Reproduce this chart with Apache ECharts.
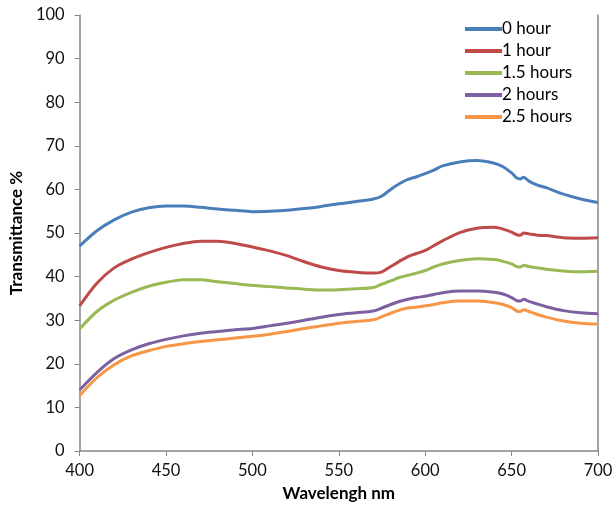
<!DOCTYPE html>
<html><head><meta charset="utf-8">
<script src="https://cdn.jsdelivr.net/npm/echarts@6/dist/echarts.min.js"></script>
<style>html,body{margin:0;padding:0;background:#fff}#c{width:616px;height:511px}</style>
</head><body><div id="c"></div>
<script>
const wavelengths = [400,410,420,430,440,450,460,470,480,490,500,510,520,530,540,550,560,570,575,580,585,590,595,600,605,610,620,630,640,645,650,653,655,657,660,665,670,680,690,700];
const hour0 = [47.0,50.5,53.0,54.8,55.8,56.2,56.2,55.9,55.5,55.2,54.9,55.0,55.2,55.6,56.1,56.7,57.2,57.8,58.5,60.0,61.3,62.3,62.9,63.6,64.4,65.4,66.3,66.6,66.0,65.2,63.8,62.6,62.4,62.8,61.9,61.0,60.4,58.9,57.8,57.0];
const hour1 = [33.3,38.5,42.0,44.0,45.5,46.7,47.6,48.1,48.1,47.6,46.8,45.9,44.8,43.4,42.2,41.4,41.0,40.8,41.1,42.3,43.5,44.6,45.3,46.0,47.1,48.2,50.1,51.1,51.3,50.9,50.2,49.6,49.5,50.0,49.8,49.5,49.4,48.9,48.8,48.9];
const hour15 = [28.0,32.0,34.6,36.4,37.8,38.7,39.3,39.3,38.8,38.4,38.0,37.7,37.4,37.1,36.9,37.0,37.2,37.5,38.3,39.0,39.8,40.3,40.8,41.4,42.2,42.9,43.7,44.1,43.9,43.5,42.9,42.3,42.2,42.6,42.3,42.0,41.7,41.3,41.1,41.2];
const hour2 = [14.0,18.0,21.2,23.2,24.6,25.6,26.4,27.0,27.4,27.8,28.1,28.7,29.3,30.0,30.7,31.3,31.7,32.1,32.8,33.6,34.3,34.8,35.2,35.5,35.9,36.3,36.7,36.7,36.4,36.0,35.2,34.5,34.4,34.8,34.3,33.7,33.1,32.2,31.7,31.5];
const hour25 = [12.7,16.8,19.8,21.8,23.0,24.0,24.6,25.1,25.5,25.9,26.3,26.8,27.4,28.1,28.7,29.3,29.7,30.1,30.8,31.6,32.3,32.8,33.0,33.3,33.6,34.0,34.4,34.4,34.0,33.6,32.9,32.1,32.0,32.4,32.0,31.3,30.7,29.8,29.3,29.1];
const seriesNames = ['0 hour','1 hour','1.5 hours','2 hours','2.5 hours'];
const seriesData = [hour0,hour1,hour15,hour2,hour25];
const colors = ['#4A7EBB','#BE4B48','#98B954','#7D60A0','#F79646'];
const xTicks = [400,450,500,550,600,650,700];
const yTicks = [0,10,20,30,40,50,60,70,80,90,100];

const font = 'Lato, "Liberation Sans", sans-serif';
const chart = echarts.init(document.getElementById('c'));
chart.setOption({
  animation:false,
  grid:{left:78,right:18,top:15,bottom:60},
  legend:{
    orient:'vertical', left:460, top:15, itemWidth:37, itemHeight:4, itemGap:4,
    icon:'rect',
    textStyle:{fontFamily:font,fontSize:17,color:'#000',lineHeight:18,padding:[0,0,0,-5]},
    data:seriesNames
  },
  xAxis:{
    type:'value', min:400, max:700, interval:50,
    name:'Wavelengh nm', nameLocation:'middle', nameGap:34,
    nameTextStyle:{fontFamily:font,fontSize:17,fontWeight:'bold',color:'#000'},
    axisLine:{lineStyle:{color:'#868686',width:1.5}},
    axisTick:{show:true,length:5,lineStyle:{color:'#868686'}},
    axisLabel:{fontFamily:font,fontSize:16.5,color:'#111',margin:11},
    splitLine:{show:false}
  },
  yAxis:[{
    type:'value', min:0, max:100, interval:10,
    name:'Transmittance %', nameLocation:'middle', nameGap:50, nameRotate:90,
    nameTextStyle:{fontFamily:font,fontSize:17,fontWeight:'bold',color:'#000'},
    axisLine:{show:true,lineStyle:{color:'#868686',width:1.5}},
    axisTick:{show:true,length:5,lineStyle:{color:'#868686'}},
    axisLabel:{fontFamily:font,fontSize:16.5,color:'#111',margin:15},
    splitLine:{show:false}
  },{
    type:'value', min:0, max:100, position:'right',
    axisLine:{show:true,lineStyle:{color:'#868686',width:1.5}},
    axisTick:{show:false}, axisLabel:{show:false}, splitLine:{show:false}
  }],
  series: seriesNames.map((n,i)=>({
    name:n, type:'line', smooth:0.3, showSymbol:false, symbol:'none',
    color:colors[i],
    lineStyle:{width:3,color:colors[i]},
    data: wavelengths.map((w,j)=>[w, seriesData[i][j]])
  }))
});
</script></body></html>
